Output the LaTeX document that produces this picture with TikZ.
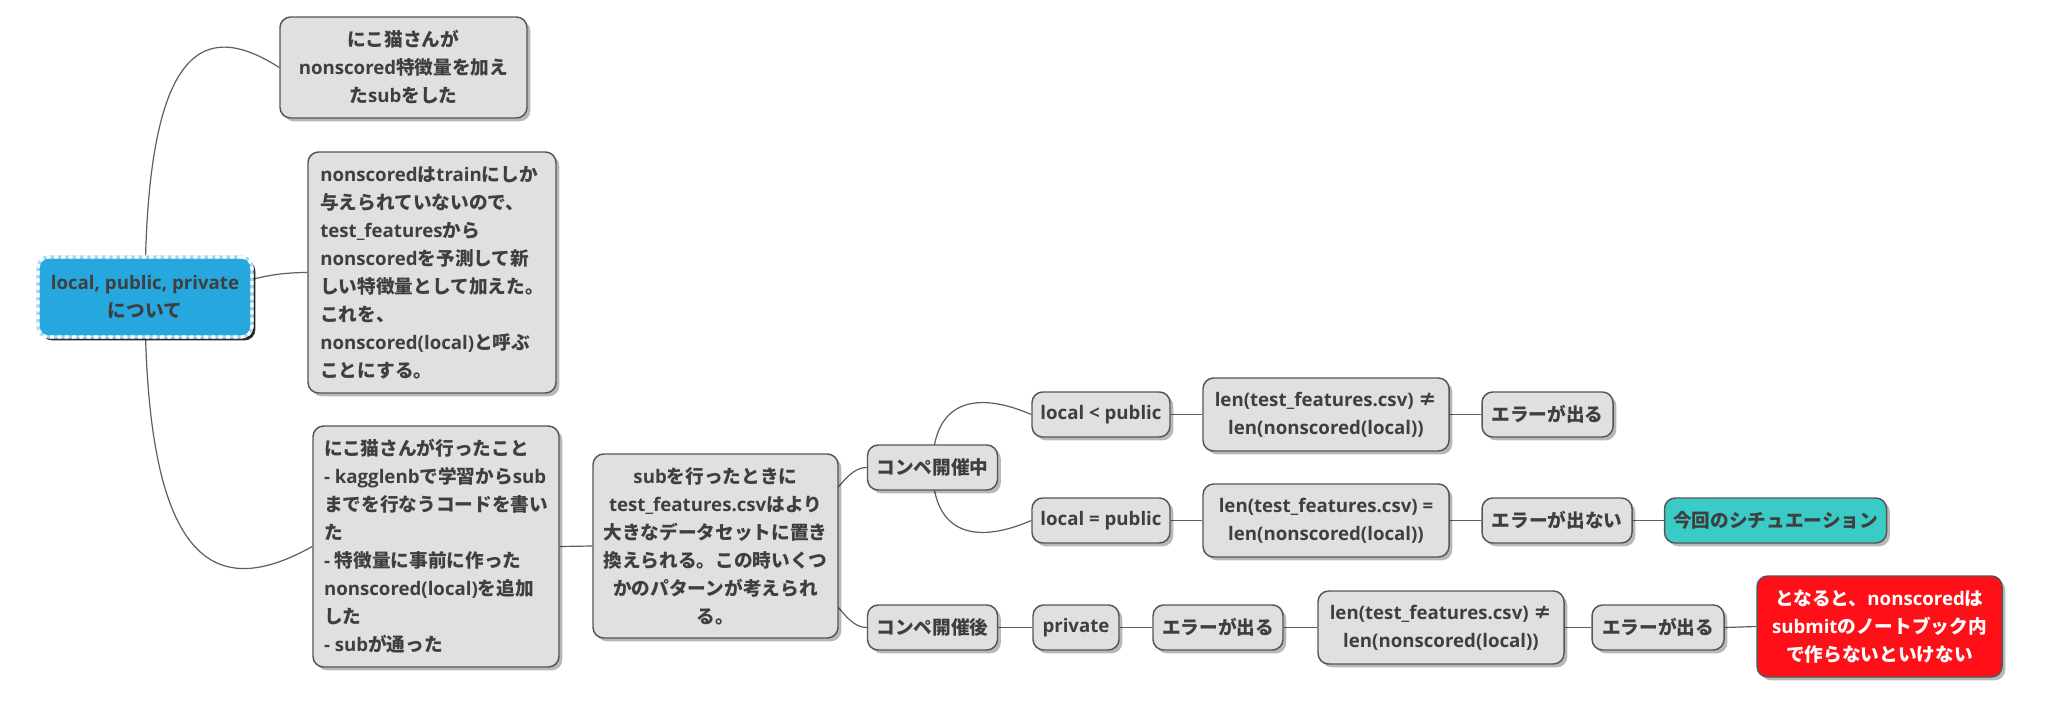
\documentclass[tikz,border=0pt]{standalone}
\usepackage{fontspec}
\setmainfont{Open Sans}
\newfontfamily\jafont{Noto Sans CJK JP}
\newcommand\ja[1]{{\jafont #1}}
\usetikzlibrary{shadows}
\definecolor{nodegray}{HTML}{E0E0E0}
\definecolor{bordergray}{HTML}{555555}
\definecolor{textgray}{HTML}{3F3F3F}
\definecolor{linkgray}{HTML}{5E5E5E}
\definecolor{rootblue}{HTML}{26A8DE}
\definecolor{rootedge}{HTML}{9FD8F0}
\definecolor{tealc}{HTML}{3ACBC7}
\definecolor{redc}{HTML}{FF1018}
\pgfdeclarelayer{bg}
\pgfsetlayers{bg,main}
\begin{document}
\begin{tikzpicture}[x=0.75pt,y=-0.75pt,
  base/.style={rectangle, rounded corners=8pt, align=center, inner sep=2pt,
    text=textgray, font=\fontsize{14}{21}\selectfont\bfseries},
  gbox/.style={base, fill=nodegray, draw=bordergray, line width=1.1pt,
    drop shadow={shadow xshift=2.5pt, shadow yshift=-2.5pt, fill=black, opacity=0.28}},
  rootbox/.style={base, fill=rootblue, draw=rootedge, line width=2.4pt,
    postaction={draw=white, line width=2.4pt, dash pattern=on 3pt off 2.5pt},
    drop shadow={shadow xshift=2.5pt, shadow yshift=-2.5pt, fill=black, opacity=0.85}},
  tealbox/.style={gbox, fill=tealc},
  redbox/.style={gbox, fill=redc, text=white},
  sz/.style 2 args={minimum width=#1*0.75pt, minimum height=#2*0.75pt},
  link/.style={draw=linkgray, line width=0.9pt}
]
\useasboundingbox (0,0) rectangle (2067,718);

\node[rootbox, sz={214}{80}] (root) at (145,297) {local, public, private\\\ja{について}};

\node[gbox, sz={247}{101}] (A) at (403.5,67.5) {\ja{にこ猫さんが}\\nonscored\ja{特徴量を加え}\\\ja{た}sub\ja{をした}};

\node[gbox, sz={248}{241}, align=left] (B) at (432,272.5) {nonscored\ja{は}train\ja{にしか}\\\ja{与えられていないので、}\\test\_features\ja{から}\\nonscored\ja{を予測して新}\\\ja{しい特徴量として加えた。}\\\ja{これを、}\\nonscored(local)\ja{と呼ぶ}\\\ja{ことにする。}};

\node[gbox, sz={246}{241}, align=left] (C) at (436,546.5) {\ja{にこ猫さんが行ったこと}\\- kagglenb\ja{で学習から}sub\\\ja{までを行なうコードを書い}\\\ja{た}\\- \ja{特徴量に事前に作った}\\nonscored(local)\ja{を追加}\\\ja{した}\\- sub\ja{が通った}};

\node[gbox, sz={245}{184}] (D) at (715.5,546) {sub\ja{を行ったときに}\\test\_features.csv\ja{はより}\\\ja{大きなデータセットに置き}\\\ja{換えられる。この時いくつ}\\\ja{かのパターンが考えられ}\\\ja{る。}};

\node[gbox, sz={130}{45}] (E) at (932.5,467.5) {\ja{コンペ開催中}};
\node[gbox, sz={130}{45}] (F) at (932.5,627.5) {\ja{コンペ開催後}};

\node[gbox, sz={138}{45}] (G) at (1101,414.5) {local < public};
\node[gbox, sz={246}{73}] (H) at (1326,414.5) {len(test\_features.csv) \ja{≠}\\len(nonscored(local))};
\node[gbox, sz={131}{45}] (I) at (1547.5,414.5) {\ja{エラーが出る}};

\node[gbox, sz={138}{45}] (J) at (1101,520.5) {local = public};
\node[gbox, sz={246}{73}] (K) at (1326,520.5) {len(test\_features.csv) =\\len(nonscored(local))};
\node[gbox, sz={150}{45}] (L) at (1557,520.5) {\ja{エラーが出ない}};
\node[tealbox, sz={222}{45}] (M) at (1775.5,520.5) {\ja{今回のシチュエーション}};

\node[gbox, sz={86}{45}] (N) at (1076,627.5) {private};
\node[gbox, sz={130}{45}] (O) at (1218,627.5) {\ja{エラーが出る}};
\node[gbox, sz={246}{73}] (P) at (1441,627.5) {len(test\_features.csv) \ja{≠}\\len(nonscored(local))};
\node[gbox, sz={132}{45}] (Q) at (1658,627.5) {\ja{エラーが出る}};
\node[redbox, sz={245}{101}] (R) at (1879.5,626.5) {\ja{となると、}nonscored\ja{は}\\submit\ja{のノートブック内}\\\ja{で作らないといけない}};

\begin{pgfonlayer}{bg}
\draw[link] (root.center) .. controls (145,40) and (205,20) .. (A.west);
\draw[link] (root.center) .. controls (230,297) and (240,272.5) .. (B.west);
\draw[link] (root.center) .. controls (145,576) and (220,598) .. (C.west);
\draw[link] (C.east) -- (D.west);
\draw[link] (D.center) .. controls (828,546) and (833,467.5) .. (E.west);
\draw[link] (D.center) .. controls (828,546) and (833,627.5) .. (F.west);
\draw[link] (E.center) .. controls (932.5,395) and (982,393) .. (G.west);
\draw[link] (E.center) .. controls (932.5,540) and (982,542) .. (J.west);
\draw[link] (G.east) -- (H.west);
\draw[link] (H.east) -- (I.west);
\draw[link] (J.east) -- (K.west);
\draw[link] (K.east) -- (L.west);
\draw[link] (L.east) -- (M.west);
\draw[link] (F.east) -- (N.west);
\draw[link] (N.east) -- (O.west);
\draw[link] (O.east) -- (P.west);
\draw[link] (P.east) -- (Q.west);
\draw[link] (Q.east) -- (R.west);
\end{pgfonlayer}
\end{tikzpicture}
\end{document}
